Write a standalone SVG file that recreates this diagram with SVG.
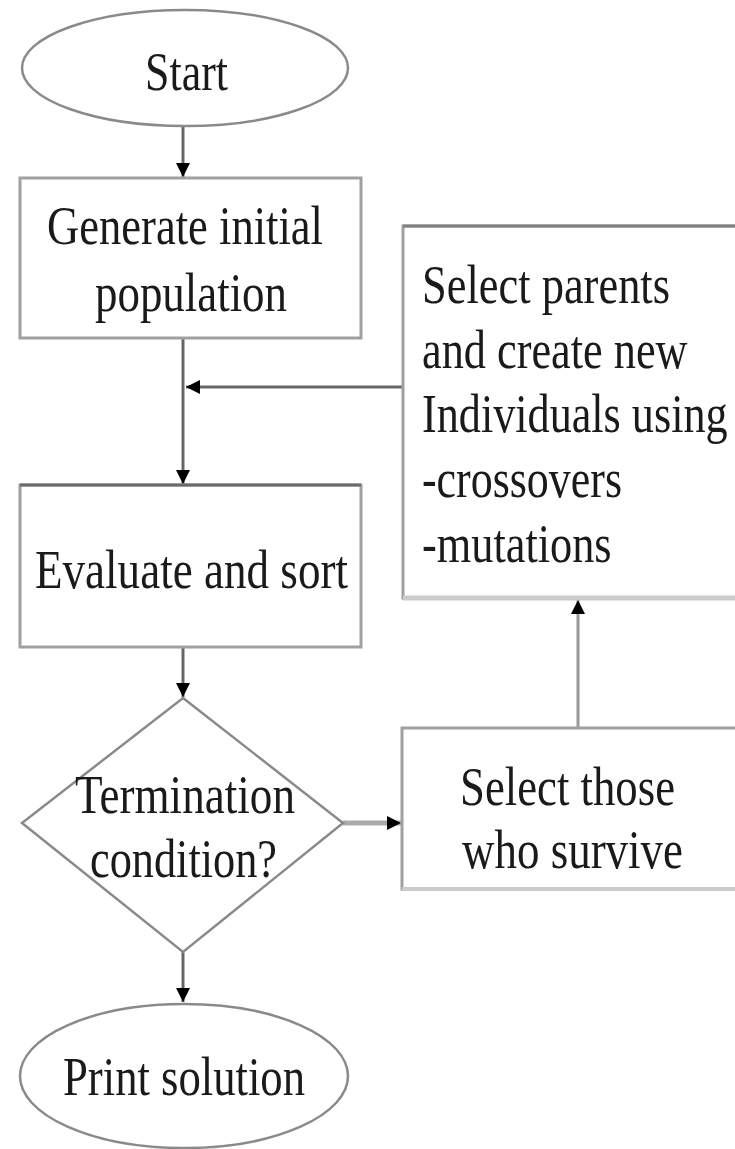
<svg xmlns="http://www.w3.org/2000/svg" width="735" height="1149" viewBox="0 0 735 1149">
  <style>
    .node { fill: #ffffff; stroke: #a0a0a0; stroke-width: 3; }
    .open { fill: none; stroke: #a0a0a0; stroke-width: 3; }
    .oval { fill: #ffffff; stroke: #8a8a8a; stroke-width: 2.5; }
    .lbl { font-family: "Liberation Serif", "Times New Roman", serif; font-size: 55px; fill: #1a1a1a; }
    .conn { fill: none; stroke: #666666; stroke-width: 3; }
    .connlight { fill: none; stroke: #aaaaaa; stroke-width: 5; }
  </style>
  <defs>
    <marker id="arr" markerUnits="userSpaceOnUse" markerWidth="16" markerHeight="16" refX="14" refY="7" orient="auto">
      <path d="M0,0 L14,7 L0,14 Z" fill="#000000"/>
    </marker>
  </defs>
  <rect width="735" height="1149" fill="#ffffff"/>

  <g id="connectors">
    <line class="conn" x1="183" y1="127" x2="183" y2="177" marker-end="url(#arr)"/>
    <line class="conn" x1="183" y1="338" x2="183" y2="484" marker-end="url(#arr)"/>
    <line class="conn" x1="403" y1="387" x2="186" y2="387" marker-end="url(#arr)"/>
    <line class="conn" x1="183" y1="647" x2="183" y2="697" marker-end="url(#arr)"/>
    <line class="connlight" x1="343" y1="823" x2="401" y2="823" marker-end="url(#arr)"/>
    <line class="conn" x1="578" y1="728" x2="578" y2="600" marker-end="url(#arr)" style="stroke:#999999"/>
    <line class="conn" x1="183" y1="952" x2="183" y2="1002" marker-end="url(#arr)"/>
  </g>

  <g id="start">
    <ellipse class="oval" cx="185" cy="68" rx="163" ry="58"/>
    <text class="lbl" x="145" y="90" textLength="83" lengthAdjust="spacingAndGlyphs">Start</text>
  </g>

  <g id="generate">
    <rect class="node" x="20" y="178" width="341" height="160"/>
    <text class="lbl" x="47" y="244" textLength="276" lengthAdjust="spacingAndGlyphs">Generate initial</text>
    <text class="lbl" x="95" y="311" textLength="192" lengthAdjust="spacingAndGlyphs">population</text>
  </g>

  <g id="evaluate">
    <rect class="node" x="20" y="485" width="341" height="162"/>
    <line x1="20" y1="485" x2="361" y2="485" stroke="#6a6a6a" stroke-width="3"/>
    <text class="lbl" x="35" y="588" textLength="313" lengthAdjust="spacingAndGlyphs">Evaluate and sort</text>
  </g>

  <g id="termination">
    <polygon class="oval" points="183,698 343,823 183,952 22,823"/>
    <text class="lbl" x="75" y="813" textLength="220" lengthAdjust="spacingAndGlyphs">Termination</text>
    <text class="lbl" x="90" y="877" textLength="187" lengthAdjust="spacingAndGlyphs">condition?</text>
  </g>

  <g id="select-parents">
    <path class="open" d="M735,226 H403 V598 H735"/>
    <line x1="403" y1="226" x2="735" y2="226" stroke="#808080" stroke-width="3"/>
    <line x1="403" y1="598" x2="735" y2="598" stroke="#cccccc" stroke-width="5"/>
    <g transform="matrix(0.8,0,0,1,422,0)">
      <text class="lbl" x="0" y="303" textLength="310" lengthAdjust="spacingAndGlyphs">Select parents</text>
      <text class="lbl" x="0" y="368" textLength="332" lengthAdjust="spacingAndGlyphs">and create new</text>
      <text class="lbl" x="0" y="432" textLength="382" lengthAdjust="spacingAndGlyphs">Individuals using</text>
      <text class="lbl" x="0" y="497" textLength="250" lengthAdjust="spacingAndGlyphs">-crossovers</text>
      <text class="lbl" x="0" y="562" textLength="237" lengthAdjust="spacingAndGlyphs">-mutations</text>
    </g>
  </g>

  <g id="select-survivors">
    <path class="open" d="M735,728 H402 V889 H735"/>
    <line x1="402" y1="889" x2="735" y2="889" stroke="#cccccc" stroke-width="4"/>
    <text class="lbl" x="460" y="805" textLength="215" lengthAdjust="spacingAndGlyphs">Select those</text>
    <text class="lbl" x="462" y="868" textLength="221" lengthAdjust="spacingAndGlyphs">who survive</text>
  </g>

  <g id="print">
    <ellipse class="oval" cx="184" cy="1076" rx="164" ry="72"/>
    <text class="lbl" x="63" y="1095" textLength="242" lengthAdjust="spacingAndGlyphs">Print solution</text>
  </g>
</svg>
